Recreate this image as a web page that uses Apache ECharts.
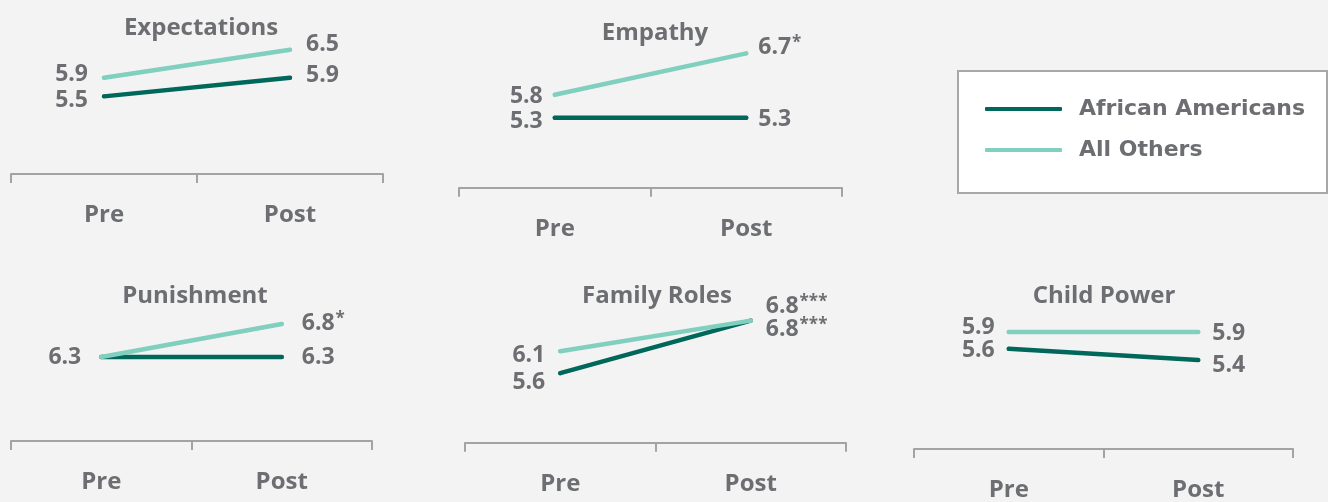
<!DOCTYPE html>
<html>
<head>
<meta charset="utf-8">
<script src="https://cdn.jsdelivr.net/npm/echarts@6/dist/echarts.min.js"></script>
<style>
  html, body { margin: 0; padding: 0; background: #f3f3f3; }
  #chart { width: 1328px; height: 502px; }
</style>
</head>
<body>
<div id="chart"></div>
<script>
// ---------- data ----------
const categories = ['Pre', 'Post'];
const seriesNames = ['African Americans', 'All Others'];
const panelTitles = ['Expectations', 'Empathy', 'Punishment', 'Family Roles', 'Child Power'];
const africanAmericans = [[5.5, 5.9], [5.3, 5.3], [6.3, 6.3], [5.6, 6.8], [5.6, 5.4]];
const allOthers        = [[5.9, 6.5], [5.8, 6.7], [6.3, 6.8], [6.1, 6.8], [5.9, 5.9]];
const sigAfricanAmericans = [['', ''], ['', ''], ['', ''], ['', '***'], ['', '']];
const sigAllOthers        = [['', ''], ['', '*'], ['', '*'], ['', '***'], ['', '']];

// ---------- layout / style ----------
const TEXT = '#6d6e71';
const AXIS = '#a3a3a3';
const COLOR_AA = '#00675b';
const COLOR_AO = '#80cfbf';
const FONT = '"Open Sans", sans-serif';

const layout = [
  { x0: 11,  x1: 383,  axisY: 174,   ppu: 46.6, yMin: 3.834, titleX: 196,  titleY: 25,  dist: 14,
    offAA: [4, -2.7], offAO: [-3.3, -5], hideAO: [false, false] },
  { x0: 459, x1: 842,  axisY: 187.7, ppu: 46.0, yMin: 3.78,  titleX: 650,  titleY: 30,  dist: 10,
    offAA: [4, 2], offAO: [2, -6], hideAO: [false, false] },
  { x0: 11,  x1: 372,  axisY: 441,   ppu: 66.0, yMin: 5.027, titleX: 190,  titleY: 293, dist: 18,
    offAA: [0, 0], offAO: [0, -1], hideAO: [true, false] },
  { x0: 465, x1: 846,  axisY: 442.7, ppu: 43.75, yMin: 4.01, titleX: 652,  titleY: 293, dist: 13,
    offAA: [9, 9], offAO: [4, -14], hideAO: [false, false] },
  { x0: 914, x1: 1293, axisY: 449,   ppu: 56.1, yMin: 3.815, titleX: 1099, titleY: 293, dist: 12,
    offAA: [2, 5], offAO: [-5, 1], hideAO: [false, false] }
];
const SPAN = 3.4;

const grids = [], xAxes = [], yAxes = [], series = [], titles = [];

function makeData(vals, sigs, offs, hides) {
  return vals.map((v, i) => ({
    value: v,
    label: {
      show: !(hides && hides[i]),
      position: i === 0 ? 'left' : 'right',
      offset: [0, offs[i]],
      formatter: () => '{v|' + v.toFixed(1) + '}' + (sigs[i] ? '{s|' + sigs[i] + '}' : '')
    }
  }));
}

const richStyle = {
  v: { fontSize: 23, fontWeight: 'bold', color: TEXT, fontFamily: FONT },
  s: { fontSize: 17, fontWeight: 'bold', color: TEXT, fontFamily: FONT, verticalAlign: 'top', padding: [0, 0, 8, 1] }
};

layout.forEach((L, k) => {
  const h = SPAN * L.ppu;
  grids.push({ left: L.x0, width: L.x1 - L.x0, top: L.axisY - h, height: h });
  xAxes.push({
    type: 'category', gridIndex: k, data: categories, boundaryGap: true,
    axisLine: { show: true, lineStyle: { color: AXIS, width: 2 } },
    axisTick: { show: true, length: 9, lineStyle: { color: AXIS, width: 2 } },
    axisLabel: { margin: 29, color: TEXT, fontSize: 24, fontWeight: 'bold', fontFamily: FONT },
    splitLine: { show: false }
  });
  yAxes.push({ type: 'value', gridIndex: k, min: L.yMin, max: L.yMin + SPAN, show: false });
  titles.push({
    text: panelTitles[k], left: L.titleX, top: L.titleY - 14, textAlign: 'center',
    textStyle: { color: TEXT, fontSize: 24, fontWeight: 'bold', fontFamily: FONT }
  });
  const common = {
    type: 'line', xAxisIndex: k, yAxisIndex: k, symbol: 'circle', symbolSize: 4,
    showSymbol: true, silent: true, animation: false,
    label: { distance: L.dist, rich: richStyle }
  };
  series.push(Object.assign({}, common, {
    name: seriesNames[0], z: 2,
    data: makeData(africanAmericans[k], sigAfricanAmericans[k], L.offAA, null),
    itemStyle: { color: COLOR_AA },
    lineStyle: { color: COLOR_AA, width: 4.5, cap: 'round' }
  }));
  series.push(Object.assign({}, common, {
    name: seriesNames[1], z: 3,
    data: makeData(allOthers[k], sigAllOthers[k], L.offAO, L.hideAO),
    itemStyle: { color: COLOR_AO },
    lineStyle: { color: COLOR_AO, width: 4.5, cap: 'round' }
  }));
});

const chart = echarts.init(document.getElementById('chart'), null, { renderer: 'canvas' });
chart.setOption({
  backgroundColor: '#f3f3f3',
  animation: false,
  title: titles,
  grid: grids,
  xAxis: xAxes,
  yAxis: yAxes,
  series: series,
  graphic: [{
    type: 'rect', left: 957, top: 70, z: -1,
    shape: { width: 369, height: 122 },
    style: { fill: '#ffffff', stroke: '#a8a8a8', lineWidth: 2 }
  }],
  legend: {
    data: seriesNames, orient: 'vertical', left: 985, top: 98, padding: 0,
    itemGap: 19, itemWidth: 77, itemHeight: 4, icon: 'roundRect',
    selectedMode: false,
    textStyle: { color: TEXT, fontSize: 22, fontWeight: 'bold', fontFamily: '"DejaVu Sans", sans-serif', padding: [0, 0, 0, 12] }
  }
});
</script>
</body>
</html>
